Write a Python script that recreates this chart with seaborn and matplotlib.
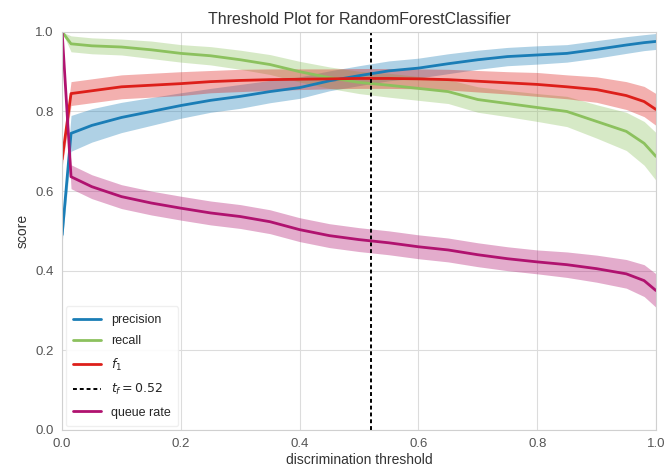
import numpy as np
import pandas as pd
import matplotlib
matplotlib.use("Agg")
import matplotlib.pyplot as plt
import seaborn as sns

# valores (limiar de discriminacao)
thresholds = [0.0, 0.015, 0.05, 0.1, 0.15, 0.2, 0.25, 0.3, 0.35, 0.4, 0.45, 0.5,
              0.55, 0.6, 0.65, 0.7, 0.75, 0.8, 0.85, 0.9, 0.95, 0.98, 1.0]

precision = [0.49, 0.745, 0.765, 0.785, 0.80, 0.815, 0.828, 0.838, 0.85, 0.86, 0.877, 0.89,
             0.902, 0.909, 0.92, 0.93, 0.938, 0.942, 0.946, 0.956, 0.967, 0.973, 0.976]
precision_band = [0.02, 0.045, 0.042, 0.038, 0.035, 0.032, 0.03, 0.03, 0.028, 0.027, 0.025, 0.025,
                  0.025, 0.025, 0.025, 0.024, 0.023, 0.023, 0.022, 0.022, 0.021, 0.02, 0.02]

recall = [1.0, 0.97, 0.965, 0.962, 0.955, 0.946, 0.94, 0.93, 0.918, 0.90, 0.885, 0.873,
          0.866, 0.858, 0.85, 0.83, 0.82, 0.81, 0.80, 0.775, 0.75, 0.72, 0.687]
recall_band = [0.0, 0.02, 0.02, 0.02, 0.022, 0.022, 0.023, 0.024, 0.025, 0.026, 0.027, 0.028,
               0.03, 0.03, 0.03, 0.032, 0.033, 0.035, 0.038, 0.042, 0.048, 0.055, 0.06]

f1 = [0.68, 0.845, 0.852, 0.862, 0.866, 0.87, 0.875, 0.878, 0.88, 0.881, 0.882, 0.883,
      0.883, 0.882, 0.88, 0.876, 0.872, 0.868, 0.862, 0.855, 0.84, 0.825, 0.805]
f1_band = [0.02, 0.03, 0.03, 0.03, 0.03, 0.03, 0.028, 0.028, 0.027, 0.026, 0.025, 0.025,
           0.025, 0.025, 0.026, 0.027, 0.028, 0.03, 0.03, 0.032, 0.035, 0.038, 0.04]

queue_rate = [1.0, 0.636, 0.611, 0.586, 0.57, 0.557, 0.545, 0.536, 0.523, 0.503, 0.488, 0.478,
              0.47, 0.46, 0.452, 0.44, 0.43, 0.422, 0.415, 0.405, 0.392, 0.375, 0.35]
queue_band = [0.0, 0.03, 0.03, 0.03, 0.03, 0.03, 0.03, 0.03, 0.03, 0.03, 0.03, 0.03,
              0.03, 0.03, 0.03, 0.03, 0.03, 0.03, 0.032, 0.034, 0.036, 0.04, 0.042]

best_threshold = 0.52

# cores aproximadas do grafico original
cores = {"precision": "#1a7db6", "recall": "#8cc15e", "f1": "#dd1f1a", "queue": "#b0126f"}

sns.set_style("whitegrid", {"grid.color": "#dcdcdc", "axes.edgecolor": "#d0d0d0"})
plt.rcParams['font.family'] = ['Liberation Sans', 'DejaVu Sans']

fig, ax = plt.subplots(figsize=(6.68, 4.76), dpi=100)
fig.subplots_adjust(left=0.093, right=0.982, top=0.933, bottom=0.097)

series = [
    ("precision", precision, precision_band, cores["precision"]),
    ("recall", recall, recall_band, cores["recall"]),
    ("$f_1$", f1, f1_band, cores["f1"]),
]

x = np.array(thresholds)
for nome, valores, banda, cor in series:
    df = pd.DataFrame({"threshold": thresholds, "score": valores})
    sns.lineplot(data=df, x="threshold", y="score", color=cor, lw=2, label=nome, ax=ax)
    v = np.array(valores)
    b = np.array(banda)
    ax.fill_between(x, v - b, np.minimum(v + b, 1.0), color=cor, alpha=0.35, lw=0)

ax.axvline(best_threshold, color="black", ls=(0, (2, 1.5)), lw=1.4,
           label="$t_f = {:0.2f}$".format(best_threshold))

df_q = pd.DataFrame({"threshold": thresholds, "score": queue_rate})
sns.lineplot(data=df_q, x="threshold", y="score", color=cores["queue"], lw=2,
             label="queue rate", ax=ax)
q = np.array(queue_rate)
qb = np.array(queue_band)
ax.fill_between(x, q - qb, np.minimum(q + qb, 1.0), color=cores["queue"], alpha=0.35, lw=0)

ax.set_xlim(0, 1)
ax.set_ylim(0, 1)
ax.set_xticks([0, 0.2, 0.4, 0.6, 0.8, 1.0])
ax.set_yticks([0, 0.2, 0.4, 0.6, 0.8, 1.0])
ax.set_xticklabels(["0.0", "0.2", "0.4", "0.6", "0.8", "1.0"])
ax.set_yticklabels(["0.0", "0.2", "0.4", "0.6", "0.8", "1.0"])
ax.tick_params(labelsize=9.5, colors="#555555", length=0, pad=6)

ax.set_title("Threshold Plot for RandomForestClassifier", fontsize=11.5, color="#333333")
ax.set_xlabel("discrimination threshold", fontsize=10, color="#333333", labelpad=2)
ax.set_ylabel("score", fontsize=10, color="#333333")

leg = ax.legend(loc="lower left", frameon=True, fontsize=9, handlelength=2.2,
                borderpad=0.6, labelspacing=0.75, borderaxespad=0.3)
leg.get_frame().set_facecolor("white")
leg.get_frame().set_edgecolor("#eeeeee")
leg.get_frame().set_alpha(0.9)

plt.savefig("out.png", dpi=100)
